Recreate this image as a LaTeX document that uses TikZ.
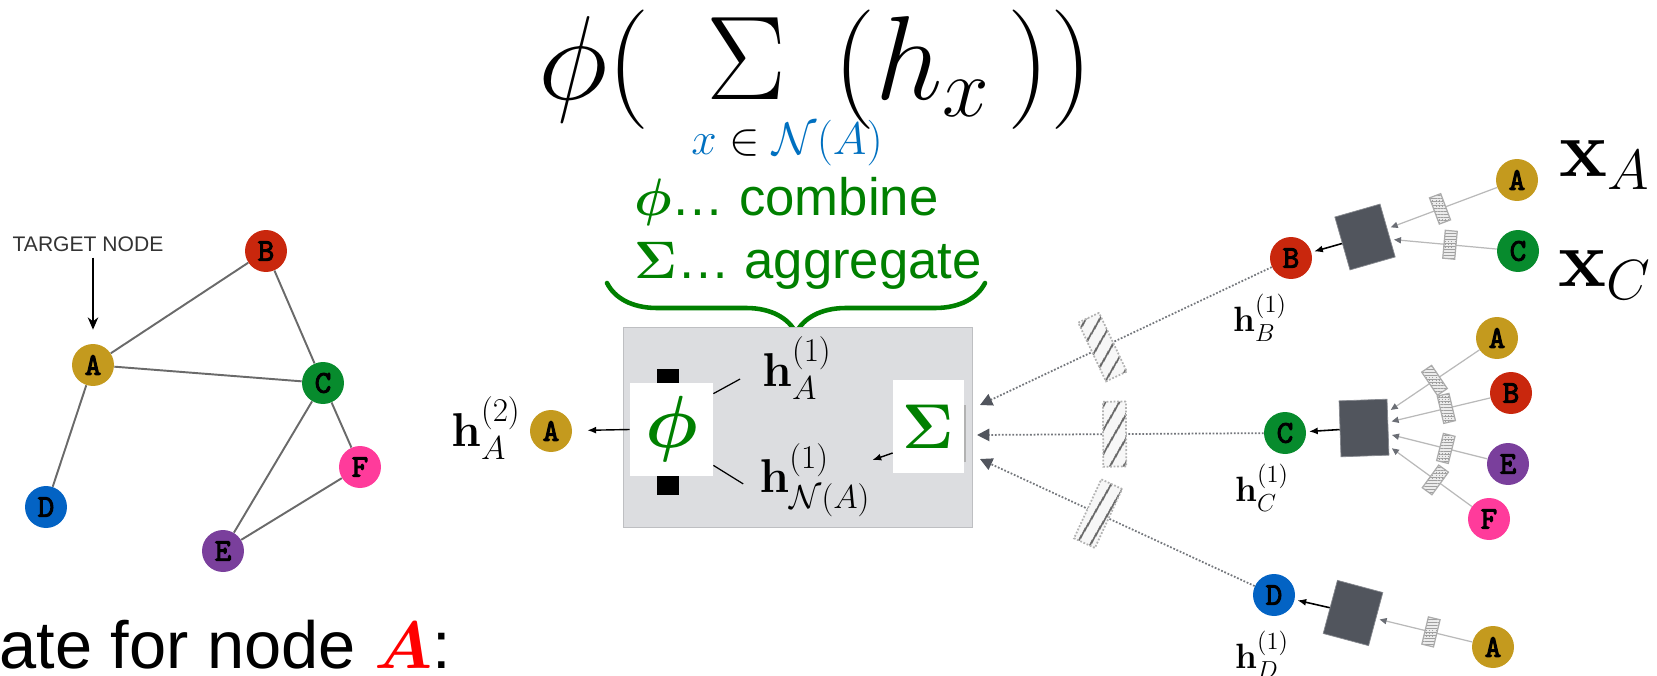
\RequirePackage{fix-cm}
\documentclass[tikz,border=0pt]{standalone}
\usepackage{amsmath}
\usepackage[no-math]{fontspec}
\setmainfont{Liberation Sans}
\newfontfamily\letterfont{lmmono10-regular.otf}[FakeBold=3]
\usepackage{xcolor}
\usepackage{tikz}
\usetikzlibrary{arrows.meta,decorations.pathreplacing,patterns.meta}
\definecolor{nodeA}{HTML}{C49A1E}
\definecolor{nodeB}{HTML}{C9270D}
\definecolor{nodeC}{HTML}{078B2D}
\definecolor{nodeD}{HTML}{0363C4}
\definecolor{nodeE}{HTML}{7A3F9C}
\definecolor{nodeF}{HTML}{FF3B9B}
\definecolor{combgreen}{HTML}{008000}
\definecolor{setblue}{HTML}{0070C0}
\definecolor{panel}{HTML}{DCDDE0}
\definecolor{panelrule}{HTML}{BEBFC2}
\definecolor{nn}{HTML}{51555D}
\definecolor{graphedge}{HTML}{6A6A6A}
\definecolor{wire}{HTML}{74777C}

\begin{document}
\begin{tikzpicture}[
  x=0.02cm, y=-0.02cm,
  vert/.style={circle,minimum size=0.84cm,inner sep=0pt,font=\letterfont\fontsize{18}{18}\selectfont},
  gline/.style={draw=graphedge,line width=1.1pt},
  nnbox/.style={fill=nn,draw=nn!70!white,line width=0.4pt,minimum width=0.94cm,minimum height=1.1cm,inner sep=0pt},
  mixbox/.style={sloped,draw=gray!60,preaction={fill=gray!6},pattern={Lines[angle=60,distance=6.5pt,line width=1.1pt]},pattern color=black!65,minimum width=0.46cm,minimum height=1.3cm,inner sep=0pt},
  wbox/.style={sloped,draw=gray!65,preaction={fill=gray!15},pattern={Hatch[angle=0,distance=1.8pt,line width=0.25pt]},pattern color=gray!75,minimum width=0.24cm,minimum height=0.56cm,inner sep=0pt},
  feed/.style={draw=gray!55,line width=0.7pt,-{Triangle[length=4pt,width=3.5pt,color=nn!85]},shorten >=2pt},
  toparent/.style={draw=black,line width=0.9pt,-{Latex[length=5pt,width=4pt]},shorten >=1.5pt},
  msg/.style={draw=wire,densely dotted,line width=1pt,-{Triangle[length=7pt,width=7pt,color=nn]}},
  hlbl/.style={inner sep=1pt,font=\fontsize{20}{20}\selectfont},
]
\useasboundingbox (0,0) rectangle (1657,676);

% --- input graph
\node[font=\fontsize{12}{12}\selectfont,text=black!80] (tgt) at (88,244) {TARGET NODE};
\node[vert,fill=nodeA] (gA) at (93,365) {A};
\node[vert,fill=nodeB] (gB) at (266,251) {B};
\node[vert,fill=nodeC] (gC) at (323,383) {C};
\node[vert,fill=nodeD] (gD) at (46,507) {D};
\node[vert,fill=nodeE] (gE) at (223,551) {E};
\node[vert,fill=nodeF] (gF) at (360,467) {F};
\draw[gline] (gA) -- (gB);
\draw[gline] (gA) -- (gC);
\draw[gline] (gB) -- (gC);
\draw[gline] (gA) -- (gD);
\draw[gline] (gC) -- (gE);
\draw[gline] (gC) -- (gF);
\draw[gline] (gE) -- (gF);
\draw[-{Stealth[length=7pt,width=6pt]},line width=0.9pt,shorten >=0.28cm] (tgt.south -| gA.north) -- (gA.north);
\node[anchor=base west,inner sep=0pt,font=\fontsize{38}{38}\selectfont] (upd) at (-1,668)
  {ate for node \textcolor{red}{$\boldsymbol{A}$}:};

% --- formula
\node[anchor=base west,inner sep=0pt,font=\fontsize{68}{68}\selectfont] (formula) at (538,99)
  {$\phi(\hspace{32pt}\Sigma\hspace{27pt}(h_x\hspace{10pt}))$};
\node[inner sep=0pt,font=\fontsize{26}{26}\selectfont] (under) at (787,143)
  {$\textcolor{setblue}{x}\in\textcolor{setblue}{\mathcal{N}(A)}$};
\node[anchor=base west,inner sep=0pt,text=combgreen,font=\fontsize{30}{30}\selectfont] (combine) at (634,215)
  {$\boldsymbol{\phi}$… combine};
\node[anchor=base west,inner sep=0pt,text=combgreen,font=\fontsize{30}{30}\selectfont] (aggregate) at (634,278)
  {$\boldsymbol{\Sigma}$… aggregate};
\coordinate (braceL) at (607,283);
\coordinate (braceR) at (985,283);
\draw[combgreen,line width=2.6pt,line cap=round,decorate,decoration={brace,mirror,amplitude=1cm}] (braceL) -- (braceR);

% --- update block
\node[draw=panelrule,fill=panel,minimum width=6.98cm,minimum height=4cm] (agg) at (797.5,427) {};
\draw[color=gray!60,line width=0.6pt] (965,405) -- (965,462);
\node[fill=black,minimum width=0.44cm,minimum height=2.52cm,inner sep=0pt] (bar) at (668,432) {};
\node[fill=white,minimum width=1.66cm,minimum height=1.86cm,inner sep=0pt,text=combgreen,font=\fontsize{42}{42}\selectfont] (phibox) at (671.5,429.5) {$\boldsymbol{\phi}$};
\node[fill=white,minimum width=1.42cm,minimum height=1.86cm,inner sep=0pt,text=combgreen,font=\fontsize{36}{36}\selectfont] (sigbox) at (928.5,426.5) {$\boldsymbol{\Sigma}$};
\node[inner sep=1pt,font=\fontsize{27}{27}\selectfont] (hA1) at (797,368) {$\mathbf{h}_A^{(1)}$};
\node[inner sep=1pt,font=\fontsize{27}{27}\selectfont] (hNA) at (815,480) {$\mathbf{h}_{\mathcal{N}(A)}^{(1)}$};
\draw[line width=0.7pt,shorten >=0.46cm] ([yshift=-0.22cm]phibox.north east) -- (hA1.west);
\draw[line width=0.7pt,shorten >=0.34cm] ([yshift=0.22cm]phibox.south east) -- (hNA.base west);
\draw[-{Latex[length=5pt,width=4pt]},line width=0.8pt] ([yshift=-0.53cm]sigbox.west) -- (hNA);

\node[vert,fill=nodeA] (rootA) at (551,431) {A};
\node[inner sep=1pt,font=\fontsize{27}{27}\selectfont] (hA2) at (486,428) {$\mathbf{h}_A^{(2)}$};
\draw[draw=black,line width=0.8pt,-{Latex[length=5pt,width=4pt]},shorten >=0.3cm] (phibox.west) -- (rootA);

% --- first layer
\node[vert,fill=nodeB] (tB) at (1291,258) {B};
\node[vert,fill=nodeC] (tC) at (1285,433) {C};
\node[vert,fill=nodeD] (tD) at (1274,595) {D};
\node[hlbl] (hB1) at (1260,318) {$\mathbf{h}_B^{(1)}$};
\node[hlbl] (hC1) at (1262,488) {$\mathbf{h}_C^{(1)}$};
\node[hlbl] (hD1) at (1262,655) {$\mathbf{h}_D^{(1)}$};
\coordinate (inB) at (980,405);
\coordinate (inC) at (977,435);
\coordinate (inD) at (980,459);
\draw[msg] (tB) -- node[mixbox,pos=0.58] {} (inB);
\draw[msg] (tC) -- node[mixbox,pos=0.52] {} (inC);
\draw[msg] (tD) -- node[mixbox,pos=0.57] {} (inD);

% --- neighbours of B
\node[nnbox,rotate=16] (nnB) at (1365,237) {};
\node[vert,fill=nodeA] (lBA) at (1517,180) {A};
\node[vert,fill=nodeC] (lBC) at (1518,251) {C};
\node[inner sep=0pt,font=\fontsize{46}{46}\selectfont] (xA) at (1605,165) {$\mathbf{x}_A$};
\node[inner sep=0pt,font=\fontsize{46}{46}\selectfont] (xC) at (1605,275) {$\mathbf{x}_C$};
\draw[feed] (lBA) -- node[wbox,pos=0.52] {} (nnB);
\draw[feed] (lBC) -- node[wbox,pos=0.44] {} (nnB);
\draw[toparent] (nnB) -- (tB);

% --- neighbours of C
\node[nnbox,rotate=2,minimum width=0.96cm,minimum height=1.12cm] (nnC) at (1364,428) {};
\node[vert,fill=nodeA] (lCA) at (1497,338) {A};
\node[vert,fill=nodeB] (lCB) at (1511,393) {B};
\node[vert,fill=nodeE] (lCE) at (1508,464) {E};
\node[vert,fill=nodeF] (lCF) at (1489,519) {F};
\draw[feed] (lCA) -- node[wbox,pos=0.49] {} (nnC);
\draw[feed] (lCB) -- node[wbox,pos=0.43] {} (nnC);
\draw[feed] (lCE) -- node[wbox,pos=0.42] {} (nnC);
\draw[feed] (lCF) -- node[wbox,pos=0.44] {} (nnC);
\draw[toparent] (nnC) -- (tC);

% --- neighbours of D
\node[nnbox,rotate=-15] (nnD) at (1353,613) {};
\node[vert,fill=nodeA] (lDA) at (1493,647) {A};
\draw[feed] (lDA) -- node[wbox,pos=0.43] {} (nnD);
\draw[toparent] (nnD) -- (tD);
\end{tikzpicture}
\end{document}
